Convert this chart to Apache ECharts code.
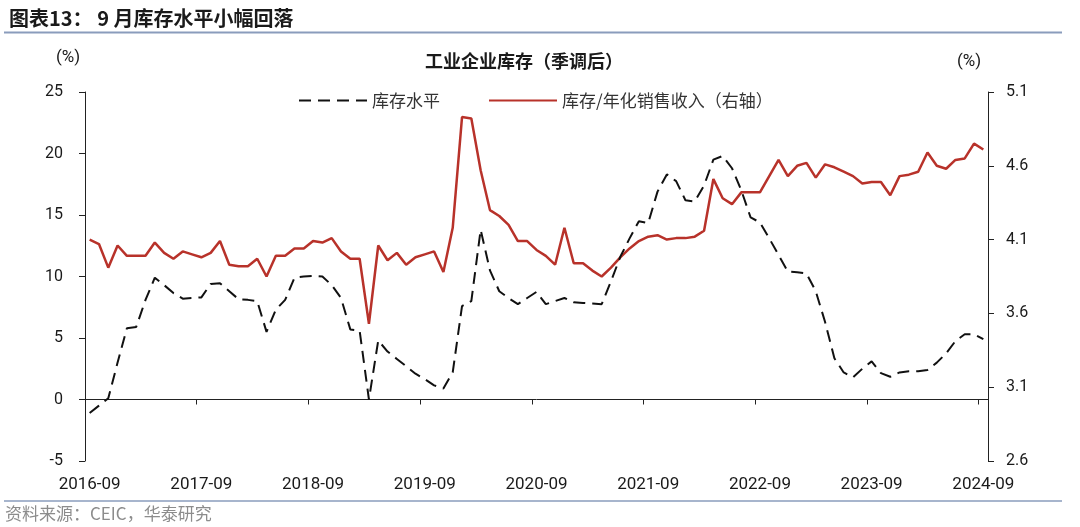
<!DOCTYPE html>
<html>
<head>
<meta charset="utf-8">
<script src="https://cdn.jsdelivr.net/npm/echarts@6/dist/echarts.min.js"></script>
<style>
html,body{margin:0;padding:0;background:#fff;}
#chart{width:1080px;height:527px;}
</style>
</head>
<body>
<div id="chart"></div>
<script>
// Month categories 2016-09 .. 2024-09
var categories = [
 '2016-09','2016-10','2016-11','2016-12',
 '2017-01','2017-02','2017-03','2017-04','2017-05','2017-06','2017-07','2017-08','2017-09','2017-10','2017-11','2017-12',
 '2018-01','2018-02','2018-03','2018-04','2018-05','2018-06','2018-07','2018-08','2018-09','2018-10','2018-11','2018-12',
 '2019-01','2019-02','2019-03','2019-04','2019-05','2019-06','2019-07','2019-08','2019-09','2019-10','2019-11','2019-12',
 '2020-01','2020-02','2020-03','2020-04','2020-05','2020-06','2020-07','2020-08','2020-09','2020-10','2020-11','2020-12',
 '2021-01','2021-02','2021-03','2021-04','2021-05','2021-06','2021-07','2021-08','2021-09','2021-10','2021-11','2021-12',
 '2022-01','2022-02','2022-03','2022-04','2022-05','2022-06','2022-07','2022-08','2022-09','2022-10','2022-11','2022-12',
 '2023-01','2023-02','2023-03','2023-04','2023-05','2023-06','2023-07','2023-08','2023-09','2023-10','2023-11','2023-12',
 '2024-01','2024-02','2024-03','2024-04','2024-05','2024-06','2024-07','2024-08','2024-09'
];

// 库存水平 (left axis, %)
var inventoryLevel = [
 -1.1, -0.5, 0.1, 3.0,
 5.8, 5.9, 8.1, 9.9, 9.3, 8.65, 8.2, 8.25, 8.3, 9.4, 9.45, 8.8,
 8.15, 8.1, 8.0, 5.5, 7.3, 8.1, 9.9, 10.0, 10.05, 10.0, 9.3, 8.25,
 5.7, 5.6, 0.0, 4.8, 3.9, 3.3, 2.7, 2.1, 1.65, 1.15, 0.9, 2.2,
 7.6, 8.0, 13.8, 10.5, 8.8, 8.25, 7.75, 8.25, 8.75, 7.75, 8.0, 8.25,
 7.9, 7.85, 7.8, 7.75, 9.6, 11.6, 13.1, 14.5, 14.35, 16.9, 18.3, 17.75,
 16.2, 16.1, 17.4, 19.5, 19.8, 18.8, 17.0, 14.8, 14.4, 13.1, 11.75, 10.4,
 10.35, 10.25, 8.8, 6.3, 3.35, 2.2, 1.8, 2.5, 3.1, 2.15, 1.85, 2.2,
 2.3, 2.3, 2.4, 3.0, 3.75, 4.75, 5.3, 5.3, 4.9
];

// 库存/年化销售收入 (right axis, %)
var inventoryToSales = [
 4.10, 4.07, 3.91, 4.06,
 3.99, 3.99, 3.99, 4.08, 4.01, 3.97, 4.02, 4.00, 3.98, 4.01, 4.09, 3.93,
 3.92, 3.92, 3.97, 3.85, 3.99, 3.99, 4.04, 4.04, 4.09, 4.08, 4.11, 4.02,
 3.97, 3.97, 3.53, 4.06, 3.96, 4.01, 3.93, 3.98, 4.00, 4.02, 3.88, 4.18,
 4.93, 4.92, 4.57, 4.30, 4.26, 4.20, 4.09, 4.09, 4.03, 3.99, 3.93, 4.18,
 3.94, 3.94, 3.89, 3.85, 3.91, 3.98, 4.04, 4.09, 4.12, 4.13, 4.10, 4.11,
 4.11, 4.12, 4.16, 4.51, 4.38, 4.34, 4.42, 4.42, 4.42, 4.53, 4.64, 4.53,
 4.60, 4.62, 4.52, 4.61, 4.59, 4.56, 4.53, 4.48, 4.49, 4.49, 4.40, 4.53,
 4.54, 4.56, 4.69, 4.60, 4.58, 4.64, 4.65, 4.75, 4.71
];

var leftTicks = { min: -5, max: 25, interval: 5 };
var rightTicks = { min: 2.6, max: 5.1, interval: 0.5 };

var seriesNames = ['库存水平', '库存/年化销售收入（右轴）'];

var FONT = 'Roboto, "Noto Sans CJK SC", sans-serif';
var CJK = '"Noto Sans CJK SC", sans-serif';
var ruleColor = '#8a9cbc';

var chart = echarts.init(document.getElementById('chart'), null, {renderer: 'canvas'});
chart.setOption({
  animation: false,
  backgroundColor: '#fff',
  grid: { left: 85, right: 92, top: 92, bottom: 66, containLabel: false },
  title: [
    { text: '图表13： 9 月库存水平小幅回落', left: 4, top: 3,
      textStyle: { fontFamily: CJK, fontSize: 20, fontWeight: 'bold', color: '#1a1a1a' } },
    { text: '工业企业库存（季调后）', left: 420, top: 47,
      textStyle: { fontFamily: CJK, fontSize: 18, fontWeight: 'bold', color: '#1a1a1a' } }
  ],
  legend: {
    data: seriesNames,
    left: 293, top: 87,
    itemWidth: 68, itemHeight: 14, itemGap: 48,
    itemStyle: { opacity: 0 },
    textStyle: { fontFamily: CJK, fontSize: 17, color: '#333' }
  },
  graphic: [
    { type: 'line', shape: { x1: 4, y1: 32.5, x2: 1062, y2: 32.5 }, style: { stroke: ruleColor, lineWidth: 2 } },
    { type: 'line', shape: { x1: 4, y1: 501, x2: 1062, y2: 501 }, style: { stroke: ruleColor, lineWidth: 1.5 } },
    { type: 'text', left: 56, top: 49, style: { text: '(%)', font: '17px ' + FONT, fill: '#1a1a1a' } },
    { type: 'text', left: 957, top: 53, style: { text: '(%)', font: '17px ' + FONT, fill: '#1a1a1a' } },
    { type: 'text', left: 5, top: 505, style: { text: '资料来源：CEIC，华泰研究', font: '17px ' + CJK, fill: '#8c8c8c' } }
  ],
  xAxis: [
    {
      type: 'category', data: categories, boundaryGap: true, position: 'bottom',
      axisLine: { show: false }, axisTick: { show: false }, splitLine: { show: false },
      axisLabel: { interval: 11, fontFamily: FONT, fontSize: 17, color: '#1a1a1a', margin: 15 }
    },
    {
      type: 'category', data: categories, boundaryGap: true, position: 'bottom',
      axisLine: { show: true, onZero: true, onZeroAxisIndex: 0, lineStyle: { color: '#222', width: 1 } },
      axisTick: { show: true, interval: 11, length: 5, inside: false, lineStyle: { color: '#222' } },
      axisLabel: { show: false }, splitLine: { show: false }
    }
  ],
  yAxis: [
    {
      type: 'value', position: 'left', min: leftTicks.min, max: leftTicks.max, interval: leftTicks.interval,
      axisLine: { show: true, onZero: false, lineStyle: { color: '#222', width: 1 } },
      axisTick: { show: true, length: 6, lineStyle: { color: '#222' } },
      splitLine: { show: false },
      axisLabel: { fontFamily: FONT, fontSize: 16, color: '#1a1a1a', margin: 22 }
    },
    {
      type: 'value', position: 'right', min: rightTicks.min, max: rightTicks.max, interval: rightTicks.interval,
      axisLine: { show: true, onZero: false, lineStyle: { color: '#222', width: 1 } },
      axisTick: { show: true, length: 6, lineStyle: { color: '#222' } },
      splitLine: { show: false },
      axisLabel: { fontFamily: FONT, fontSize: 16, color: '#1a1a1a', margin: 18,
        formatter: function (v) { return v.toFixed(1); } }
    }
  ],
  series: [
    {
      name: seriesNames[0], type: 'line', xAxisIndex: 0, yAxisIndex: 0,
      data: inventoryLevel, symbol: 'none', z: 3,
      lineStyle: { color: '#111', width: 2, type: [12, 7] },
      itemStyle: { color: '#111' }
    },
    {
      name: seriesNames[1], type: 'line', xAxisIndex: 0, yAxisIndex: 1,
      data: inventoryToSales, symbol: 'none', z: 2,
      lineStyle: { color: '#b8322a', width: 2.5 },
      itemStyle: { color: '#b8322a' }
    }
  ]
});
</script>
</body>
</html>
